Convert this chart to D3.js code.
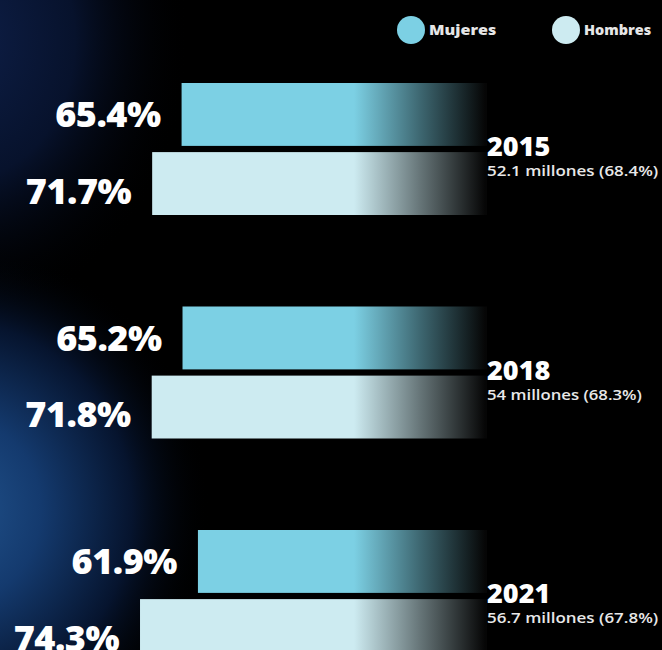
<!DOCTYPE html>
<meta charset="utf-8">
<html>
<head>
<style>
  html, body { margin: 0; padding: 0; background: #000; }
  svg { display: block; }
</style>
</head>
<body>
<div id="chart"></div>
<script src="https://d3js.org/d3.v7.min.js"></script>
<script>
  // data
  var years = ["2015", "2018", "2021"];
  var sexes = ["Mujeres", "Hombres"];
  var mujeres = [65.4, 65.2, 61.9];
  var hombres = [71.7, 71.8, 74.3];
  var totals = ["52.1 millones (68.4%)", "54 millones (68.3%)", "56.7 millones (67.8%)"];

  var W = 662, H = 650;
  var colors = { Mujeres: "#7cd0e4", Hombres: "#cdebf1" };
  var heavy = "'Open Sans', Lato, sans-serif";

  var svg = d3.select("#chart").append("svg")
    .attr("width", W)
    .attr("height", H);

  var defs = svg.append("defs");

  // background glow on the left (lower part, stretched vertically)
  var glow = defs.append("radialGradient")
    .attr("id", "glow")
    .attr("gradientUnits", "userSpaceOnUse")
    .attr("cx", 0).attr("cy", 0).attr("r", 1)
    .attr("gradientTransform", "translate(-50,510) scale(260,270)");
  glow.append("stop").attr("offset", 0).attr("stop-color", "#22548e");
  glow.append("stop").attr("offset", 0.35).attr("stop-color", "#143a6e");
  glow.append("stop").attr("offset", 0.7).attr("stop-color", "#06142e");
  glow.append("stop").attr("offset", 1).attr("stop-color", "#000").attr("stop-opacity", 0);

  // dark navy in the top-left corner
  var glow2 = defs.append("radialGradient")
    .attr("id", "glow2")
    .attr("gradientUnits", "userSpaceOnUse")
    .attr("cx", 0).attr("cy", 0).attr("r", 1)
    .attr("gradientTransform", "translate(-40,40) scale(230,280)");
  glow2.append("stop").attr("offset", 0).attr("stop-color", "#0e1f48");
  glow2.append("stop").attr("offset", 0.5).attr("stop-color", "#07122c");
  glow2.append("stop").attr("offset", 1).attr("stop-color", "#000").attr("stop-opacity", 0);

  svg.append("rect").attr("width", W).attr("height", H).attr("fill", "#000");
  svg.append("rect").attr("width", W).attr("height", H).attr("fill", "url(#glow2)");
  svg.append("rect").attr("width", W).attr("height", H).attr("fill", "url(#glow)");

  // scales: bars grow leftwards from a common right edge
  var x = d3.scaleLinear().domain([0, 100]).range([487, 20]);
  var y = d3.scaleBand().domain(years).range([83, 83 + 3 * 223.5]);
  var ySex = d3.scaleBand().domain(sexes).range([0, 132]).paddingInner(0.09);

  // fade-out gradient per sex
  sexes.forEach(function(s) {
    var g = defs.append("linearGradient")
      .attr("id", "fade-" + s)
      .attr("gradientUnits", "userSpaceOnUse")
      .attr("x1", 354).attr("x2", 485).attr("y1", 0).attr("y2", 0);
    g.append("stop").attr("offset", 0).attr("stop-color", colors[s]);
    g.append("stop").attr("offset", 0.5).attr("stop-color", d3.interpolateRgb(colors[s], "#000")(0.5));
    g.append("stop").attr("offset", 1).attr("stop-color", "#060606");
  });

  var rows = [];
  years.forEach(function(yr, i) {
    rows.push({ year: yr, sex: "Mujeres", value: mujeres[i] });
    rows.push({ year: yr, sex: "Hombres", value: hombres[i] });
  });

  var bars = svg.append("g");
  bars.selectAll("rect")
    .data(rows)
    .enter()
    .append("rect")
      .attr("x", function(d) { return x(d.value); })
      .attr("y", function(d) { return y(d.year) + ySex(d.sex); })
      .attr("width", function(d) { return x(0) - x(d.value); })
      .attr("height", ySex.bandwidth())
      .attr("fill", function(d) { return "url(#fade-" + d.sex + ")"; });

  // value labels
  svg.append("g")
    .selectAll("text")
    .data(rows)
    .enter()
    .append("text")
      .attr("x", function(d) { return x(d.value) - 21; })
      .attr("y", function(d) { return y(d.year) + ySex(d.sex) + ySex.bandwidth() / 2 + (d.sex == "Hombres" ? 7 : 0); })
      .attr("dy", "0.36em")
      .attr("text-anchor", "end")
      .attr("fill", "#fff")
      .style("font-family", heavy)
      .style("font-weight", 800)
      .style("font-size", "36px")
      .style("letter-spacing", "-0.5px")
      .text(function(d) { return d.value.toFixed(1) + "%"; });

  // year labels
  var yl = svg.append("g");
  years.forEach(function(yr, i) {
    var mid = y(yr) + ySex("Hombres");
    yl.append("text")
      .attr("x", x(0))
      .attr("y", mid + 4)
      .attr("fill", "#fff")
      .style("font-family", heavy)
      .style("font-weight", 800)
      .style("font-size", "27px")
      .text(yr);
    yl.append("text")
      .attr("x", x(0))
      .attr("y", mid + 24)
      .attr("fill", "#e8e8e8")
      .attr("textLength", totals[i].length * 8.15)
      .attr("lengthAdjust", "spacingAndGlyphs")
      .style("font-family", heavy)
      .style("font-weight", 600)
      .style("font-size", "13.5px")
      .text(totals[i]);
  });

  // legend
  var legX = { Mujeres: 411, Hombres: 566 };
  var leg = svg.append("g");
  sexes.forEach(function(s) {
    leg.append("circle")
      .attr("cx", legX[s]).attr("cy", 30).attr("r", 14)
      .attr("fill", colors[s]);
    leg.append("text")
      .attr("x", legX[s] + 18).attr("y", 30)
      .attr("dy", "0.35em")
      .attr("fill", "#e6e6e6")
      .attr("textLength", s.length * 9.6)
      .attr("lengthAdjust", "spacingAndGlyphs")
      .style("font-family", heavy)
      .style("font-weight", 800)
      .style("font-size", "14px")
      .text(s);
  });
</script>
</body>
</html>
